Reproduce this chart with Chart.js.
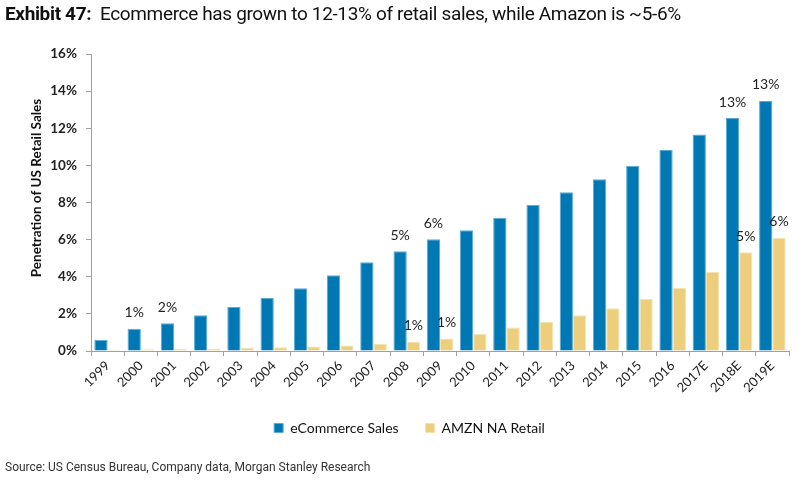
<!DOCTYPE html>
<html>
<head>
<meta charset="utf-8">
<script src="https://cdn.jsdelivr.net/npm/chart.js@4/dist/chart.umd.min.js"></script>
<style>
  html,body{margin:0;padding:0;background:#fff;}
  #wrap{position:relative;width:800px;height:482px;overflow:hidden;}
  #chart{position:absolute;left:0;top:0;}
  #title{position:absolute;left:5px;top:4px;font-family:Roboto,sans-serif;font-size:19px;line-height:20px;color:#111;white-space:pre;letter-spacing:-0.35px;}
  #title b{font-weight:700;}
  #source{position:absolute;left:5px;top:460px;font-family:Roboto,sans-serif;font-size:12px;line-height:14px;color:#333;white-space:pre;letter-spacing:0px;}
</style>
</head>
<body>
<div id="wrap">
  <canvas id="chart" width="800" height="482"></canvas>
  <div id="title"><b>Exhibit 47:</b>  Ecommerce has grown to 12-13% of retail sales, while Amazon is ~5-6%</div>
  <div id="source">Source: US Census Bureau, Company data, Morgan Stanley Research</div>
</div>
<script>
const years = ['1999','2000','2001','2002','2003','2004','2005','2006','2007','2008','2009','2010','2011','2012','2013','2014','2015','2016','2017E','2018E','2019E'];
const ecommerce = [0.6,1.2,1.5,1.92,2.37,2.86,3.38,4.08,4.78,5.37,6.02,6.5,7.18,7.88,8.55,9.25,9.98,10.83,11.67,12.55,13.47];
const amzn = [0.05,0.1,0.11,0.14,0.18,0.2,0.24,0.29,0.38,0.5,0.68,0.93,1.27,1.56,1.92,2.3,2.8,3.41,4.27,5.32,6.09];
const ecommerceLabels = [null,'1%','2%',null,null,null,null,null,null,'5%','6%',null,null,null,null,null,null,null,null,'13%','13%'];
const amznLabels = [null,null,null,null,null,null,null,null,null,'1%','1%',null,null,null,null,null,null,null,null,'5%','6%'];
const yTicks = [0,2,4,6,8,10,12,14,16];

const BLUE = '#0078B4', YELLOW = '#EDCE7C';

const labelPlugin = {
  id: 'barLabels',
  afterDatasetsDraw(chart) {
    const ctx = chart.ctx;
    const sets = [ecommerceLabels, amznLabels];
    ctx.save();
    ctx.font = '14px Lato, sans-serif';
    ctx.fillStyle = '#222';
    ctx.textAlign = 'center';
    ctx.textBaseline = 'middle';
    sets.forEach((labels, di) => {
      const meta = chart.getDatasetMeta(di);
      labels.forEach((t, i) => {
        if (!t) return;
        const el = meta.data[i];
        ctx.fillText(t, el.x, el.y - 16);
      });
    });
    ctx.font = 'bold 13.5px Lato, sans-serif';
    ctx.fillStyle = '#111';
    ctx.translate(37, 188);
    ctx.rotate(-Math.PI / 2);
    ctx.fillText('Penetration of US Retail Sales', 0, 0);
    ctx.restore();
  }
};

new Chart(document.getElementById('chart'), {
  type: 'bar',
  data: {
    labels: years,
    datasets: [
      { label: 'eCommerce Sales', data: ecommerce, backgroundColor: BLUE, borderColor: '#5aaad6', borderWidth: 1, categoryPercentage: 0.8, barPercentage: 1.0 },
      { label: 'AMZN NA Retail', data: amzn, backgroundColor: YELLOW, borderColor: '#f6e2ad', borderWidth: 1, categoryPercentage: 0.8, barPercentage: 1.0 }
    ]
  },
  options: {
    responsive: false,
    animation: false,
    devicePixelRatio: 1,
    layout: { padding: { left: 30, right: 11, top: 54, bottom: 37 } },
    plugins: {
      legend: {
        position: 'bottom',
        labels: { boxWidth: 9, boxHeight: 9, padding: 27, color: '#111', font: { family: 'Lato, sans-serif', size: 14 } }
      },
      tooltip: { enabled: false },
      title: { display: false }
    },
    scales: {
      x: {
        grid: { offset: true, drawOnChartArea: false, drawTicks: true, tickLength: 5, color: '#a0a0a0' },
        border: { color: '#a0a0a0' },
        ticks: { minRotation: 45, maxRotation: 45, color: '#222', padding: 2, font: { family: 'Lato, sans-serif', size: 13 } },
        afterFit(s) { s.height = 43; }
      },
      y: {
        min: 0, max: 16,
        afterBuildTicks(s) { s.ticks = yTicks.map(v => ({ value: v })); },
        grid: { drawOnChartArea: false, drawTicks: true, tickLength: 5, color: '#a0a0a0' },
        border: { color: '#a0a0a0' },
        ticks: { padding: 9, color: '#222', font: { family: 'Lato, sans-serif', size: 13.5, weight: 'bold' }, callback: v => v + '%' },
        afterFit(s) { s.width = 61; }
      }
    }
  },
  plugins: [labelPlugin]
});
</script>
</body>
</html>
